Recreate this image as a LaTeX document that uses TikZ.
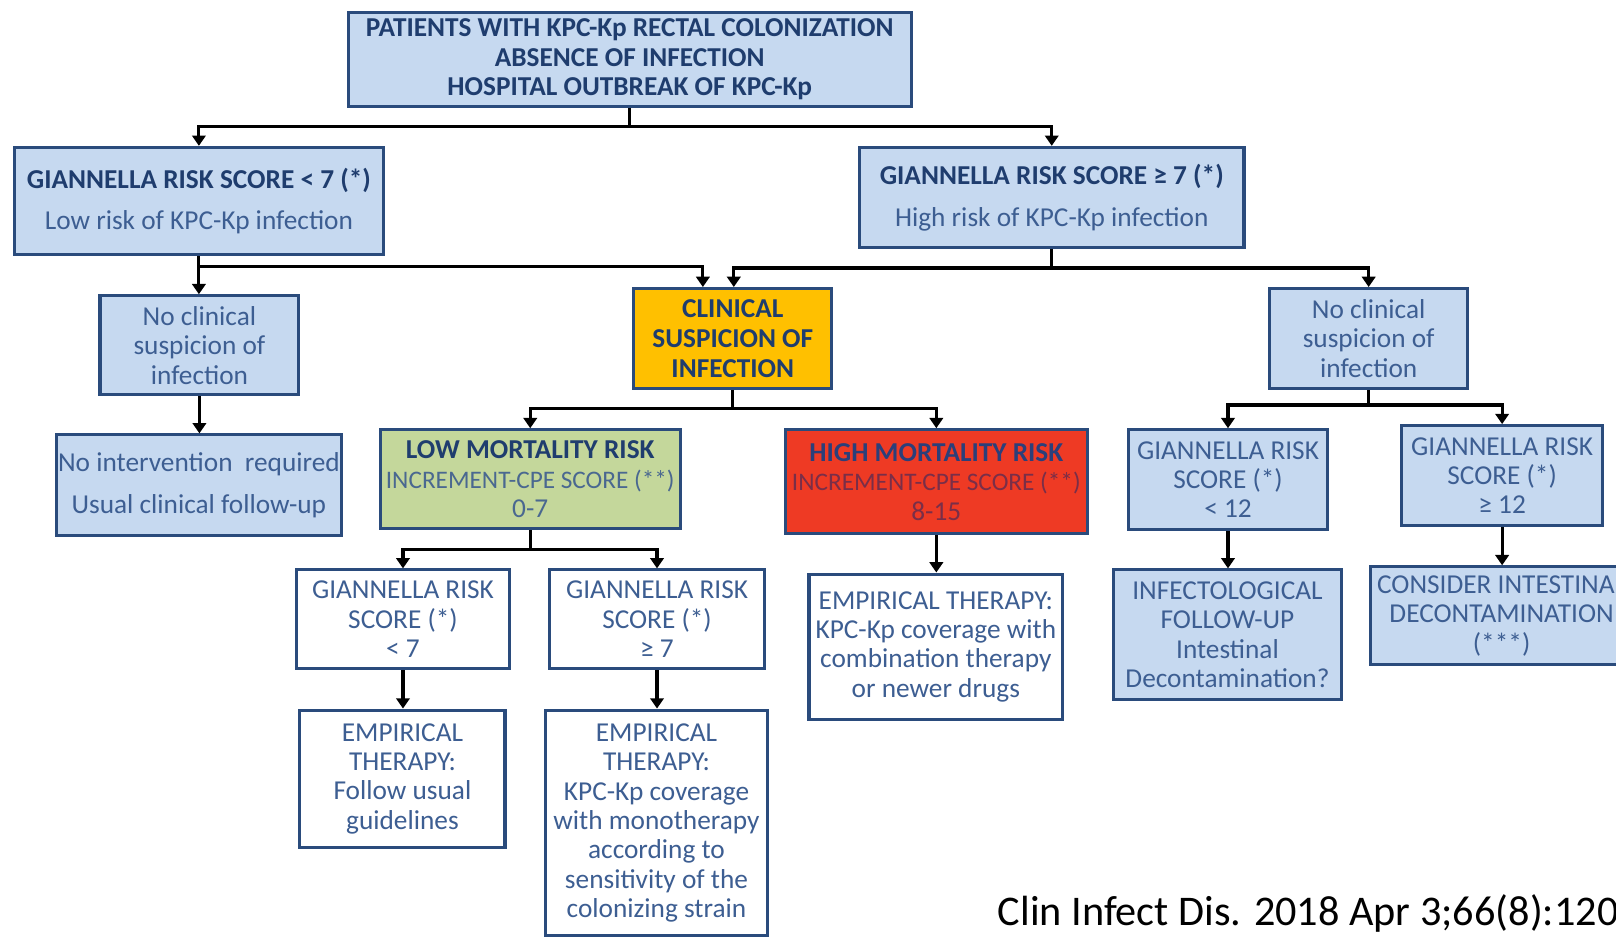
\documentclass[tikz,border=0pt]{standalone}
\usepackage{fontspec}
\setmainfont{Carlito}
\usetikzlibrary{arrows.meta}
\definecolor{bfill}{HTML}{C6D9F0}
\definecolor{bdraw}{HTML}{2A4B7C}
\definecolor{tbold}{HTML}{1F3D6E}
\definecolor{tnorm}{HTML}{3D5E92}
\definecolor{orng}{HTML}{FFC000}
\definecolor{grn}{HTML}{C4D79B}
\definecolor{rd}{HTML}{EE3A24}
\definecolor{rdtext}{HTML}{7A2E48}
\definecolor{hmbold}{HTML}{2B3F7A}
\definecolor{lmtext}{HTML}{4A6890}
\newcommand{\cpeline}{{\fontsize{24.5}{28.5}\selectfont INCREMENT-CPE SCORE (**)}}
\begin{document}
\begin{tikzpicture}[x=1pt,y=-1pt,
 box/.style={draw=bdraw, line width=3pt, fill=bfill, inner sep=0pt, align=center, text=tnorm, font=\fontsize{26.5}{28.5}\selectfont},
 wbox/.style={box, fill=white},
 arr/.style={line width=3pt, -{Triangle[width=13pt,length=10pt]}},
 ln/.style={line width=3pt},
 bt/.style={font=\bfseries\fontsize{26.5}{29}\selectfont, text=tbold},
]
\clip (0,0) rectangle (1568,911);
\fill[white] (0,0) rectangle (1568,911);

\node[box, bt, minimum width=546pt, minimum height=91pt] (top) at (611,57.5)
 {PATIENTS WITH KPC-Kp RECTAL COLONIZATION\\ABSENCE OF INFECTION\\HOSPITAL OUTBREAK OF KPC-Kp};

\node[box, minimum width=358pt, minimum height=104pt] (g1) at (193,195)
 {{\bfseries\color{tbold}GIANNELLA RISK SCORE < 7 (*)}\\[12pt]Low risk of KPC-Kp infection};
\node[box, minimum width=373pt, minimum height=97pt] (g2) at (1020.5,191.5)
 {{\bfseries\color{tbold}GIANNELLA RISK SCORE ≥ 7 (*)}\\[12pt]High risk of KPC-Kp infection};

\node[box, minimum width=193pt, minimum height=96pt] (nc1) at (193.5,335)
 {No clinical\\suspicion of\\infection};
\node[box, minimum width=276pt, minimum height=98pt] (ni) at (193,471)
 {No intervention\ \ required\\[12pt]Usual clinical follow-up};

\node[box, bt, fill=orng, minimum width=192pt, minimum height=97pt] (clin) at (711,328.5)
 {CLINICAL\\SUSPICION OF\\INFECTION};

\node[box, minimum width=192pt, minimum height=97pt] (nc2) at (1328,328.5)
 {No clinical\\suspicion of\\infection};

\node[box, fill=grn, text=lmtext, minimum width=291pt, minimum height=96pt] (lm) at (514.5,465)
 {{\bfseries\color{tbold}LOW MORTALITY RISK}\\\cpeline\\0-7};
\node[box, fill=rd, text=rdtext, minimum width=293pt, minimum height=101pt] (hm) at (908.5,467.5)
 {{\bfseries\color{hmbold}HIGH MORTALITY RISK}\\\cpeline\\8-15};

\node[box, minimum width=193pt, minimum height=97pt] (r12a) at (1191.5,465.5)
 {GIANNELLA RISK\\SCORE (*)\\< 12};
\node[box, minimum width=195pt, minimum height=97pt] (r12b) at (1457.5,461.5)
 {GIANNELLA RISK\\SCORE (*)\\≥ 12};

\node[box, minimum width=222pt, minimum height=126pt] (inf) at (1191,616)
 {INFECTOLOGICAL\\FOLLOW-UP\\Intestinal\\Decontamination?};
\node[box, minimum width=254pt, minimum height=95pt] (cons) at (1457,597.5)
 {CONSIDER INTESTINAL\\DECONTAMINATION\\(***)};

\node[wbox, minimum width=206pt, minimum height=96pt] (s7a) at (391,601)
 {GIANNELLA RISK\\SCORE (*)\\< 7};
\node[wbox, minimum width=209pt, minimum height=96pt] (s7b) at (637.5,601)
 {GIANNELLA RISK\\SCORE (*)\\≥ 7};

\node[wbox, minimum width=199pt, minimum height=133pt] (e1) at (390.5,755.5)
 {EMPIRICAL\\THERAPY:\\Follow usual\\guidelines};
\node[wbox, minimum width=216pt, minimum height=219pt] (e2) at (637,798.5)
 {EMPIRICAL\\THERAPY:\\KPC-Kp coverage\\with monotherapy\\according to\\sensitivity of the\\colonizing strain};
\node[wbox, minimum width=246pt, minimum height=141pt] (e3) at (908,627.5)
 {EMPIRICAL THERAPY:\\KPC-Kp coverage with\\combination therapy\\or newer drugs};

\node[anchor=base west, inner sep=0pt, font=\fontsize{41}{43}\selectfont, text=black] (cit) at (968,898)
 {Clin Infect Dis. 2018 Apr 3;66(8):1204};

% connectors
\coordinate (j1) at (611,123);
\draw[ln] (top.south) -- (j1);
\draw[arr] (j1) -| (g1.north);
\draw[arr] (j1) -| (g2.north);

\coordinate (j2) at (193,259);
\draw[arr] (g1.south) -- (nc1.north -| g1.south);
\draw[arr] (j2) -| ([xshift=-29pt]clin.north);

\coordinate (j3) at (1020.5,260);
\draw[ln] (g2.south) -- (j3);
\draw[arr] (j3) -| ([xshift=1pt]clin.north);
\draw[arr] (j3) -| (nc2.north);

\draw[arr] (nc1.south) -- (ni.north -| nc1.south);

\coordinate (j4) at (711,396);
\draw[ln] (clin.south) -- (j4);
\draw[arr] (j4) -| (lm.north);
\draw[arr] (j4) -| (hm.north);

\coordinate (j5) at (1328,393);
\draw[ln] (nc2.south) -- (j5);
\draw[arr] (j5) -| (r12a.north);
\draw[arr] (j5) -| (r12b.north);

\coordinate (j6) at (514.5,533);
\draw[ln] (lm.south) -- (j6);
\draw[arr] (j6) -| (s7a.north);
\draw[arr] (j6) -| (s7b.north);

\draw[arr] (hm.south) -- (e3.north -| hm.south);
\draw[arr] (s7a.south) -- (e1.north -| s7a.south);
\draw[arr] (s7b.south) -- (e2.north -| s7b.south);
\draw[arr] (r12a.south) -- (inf.north -| r12a.south);
\draw[arr] (r12b.south) -- (cons.north -| r12b.south);
\end{tikzpicture}
\end{document}
